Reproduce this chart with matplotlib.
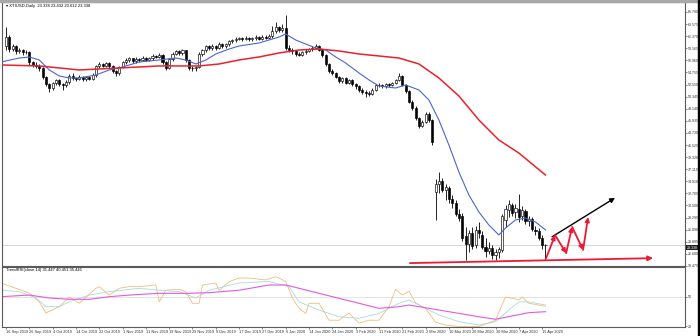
#!/usr/bin/env python3
import numpy as np
import matplotlib.pyplot as plt
import matplotlib.transforms as mtransforms
from matplotlib.patches import Rectangle

# ================================
# DATA (XTIUSD daily)
# ================================

opens = [
    59.5, 61.2, 59.0, 59.5, 58.6, 58.9, 58.4, 58.5, 56.6, 56.2,
    56.0, 55.5, 54.0, 52.6, 51.9, 52.8, 53.3, 52.6, 52.4, 53.0,
    54.2, 53.8, 53.6, 54.0, 53.5, 53.9, 53.6, 54.3, 55.9, 56.3,
    56.0, 56.4, 55.9, 55.0, 54.6, 55.8, 56.6, 57.0, 57.3, 56.8,
    57.2, 57.0, 57.4, 57.1, 57.3, 57.8, 57.6, 58.0, 56.6, 55.6,
    57.2, 58.2, 58.6, 58.3, 58.8, 57.0, 55.6, 55.5, 55.8, 58.2,
    58.8, 59.5, 59.2, 59.6, 59.3, 60.0, 59.6, 59.9, 60.4, 60.6,
    60.9, 61.0, 60.9, 61.1, 60.8, 61.0, 61.2, 60.9, 61.3, 61.1,
    61.4, 62.4, 63.0, 62.5, 62.8, 59.3, 58.9, 58.6, 58.2, 58.0,
    58.4, 58.7, 59.0, 59.3, 59.5, 58.9, 57.9, 56.3, 55.0, 54.6,
    54.0, 53.2, 53.7, 52.9, 53.3, 52.6, 52.2, 51.6, 51.2, 51.0,
    50.8, 51.6, 52.4, 52.5, 52.2, 52.6, 52.4, 52.9, 53.4, 54.1,
    52.5, 51.4, 49.4, 48.3, 46.4, 45.0, 45.8, 47.2, 46.0,
    33.0, 34.4, 35.0, 33.4, 33.6, 31.6, 31.0, 29.0, 28.6, 25.0,
    23.5, 25.5, 23.3, 26.0, 25.2, 23.0, 22.2, 22.7, 21.5, 22.0,
    22.4, 27.8, 29.6, 30.6, 29.3, 29.8, 28.5, 29.5, 27.6, 28.1,
    26.1, 25.8, 24.6, 23.338,
]
highs = [
    63.0, 61.6, 60.0, 59.7, 59.3, 59.1, 58.9, 58.7, 56.9, 56.7,
    56.3, 55.7, 54.2, 52.9, 53.1, 53.6, 53.5, 52.9, 53.3, 54.5,
    54.6, 54.0, 54.3, 54.2, 54.2, 54.1, 54.6, 56.2, 56.6, 56.5,
    56.7, 56.6, 56.1, 55.2, 56.0, 56.9, 57.3, 57.6, 57.4, 57.5,
    57.4, 57.7, 57.6, 57.5, 58.1, 58.0, 58.3, 58.2, 56.9, 57.4,
    58.5, 58.9, 58.8, 59.1, 58.9, 57.2, 55.9, 56.0, 58.4, 59.1,
    59.8, 59.7, 59.9, 59.8, 60.3, 60.1, 60.2, 60.6, 60.9, 61.2,
    61.3, 61.3, 61.4, 61.2, 61.3, 61.5, 61.4, 61.6, 61.5, 61.7,
    63.2, 64.0, 63.3, 63.5, 65.2, 59.8, 59.2, 58.9, 58.5, 58.6,
    59.0, 59.3, 59.6, 59.9, 59.8, 59.1, 58.1, 56.5, 55.3, 54.8,
    54.2, 54.0, 53.9, 53.6, 53.5, 52.8, 52.5, 51.9, 51.5, 51.3,
    51.9, 52.7, 52.8, 52.7, 52.9, 52.8, 53.1, 53.6, 54.7, 54.3,
    52.7, 51.6, 49.7, 48.6, 46.7, 46.1, 47.5, 47.5, 46.3,
    35.3, 36.6, 35.6, 34.5, 34.0, 32.4, 31.5, 29.8, 29.2, 26.5,
    26.0, 26.6, 26.8, 27.5, 25.8, 24.6, 23.8, 23.3, 22.6, 23.0,
    29.0, 30.5, 31.5, 31.0, 30.8, 32.6, 30.4, 29.9, 28.6, 28.4,
    26.8, 26.4, 25.2, 23.432,
]
lows = [
    58.8, 58.5, 58.6, 58.2, 58.3, 58.0, 58.1, 56.2, 55.7, 55.6,
    55.1, 53.6, 52.2, 51.2, 51.6, 52.5, 52.3, 51.6, 52.1, 52.7,
    53.4, 53.2, 53.3, 53.2, 53.2, 53.3, 53.4, 54.0, 55.6, 55.7,
    55.7, 55.6, 54.7, 54.2, 54.3, 55.5, 56.3, 56.7, 56.5, 56.5,
    56.7, 56.8, 56.8, 56.8, 57.0, 57.3, 57.3, 56.3, 55.2, 55.3,
    56.9, 57.9, 57.9, 58.0, 56.7, 55.2, 55.0, 55.1, 55.5, 57.8,
    58.5, 58.8, 58.9, 58.9, 59.0, 59.2, 59.3, 59.6, 60.1, 60.3,
    60.6, 60.5, 60.6, 60.5, 60.5, 60.7, 60.6, 60.7, 60.8, 60.9,
    61.1, 62.0, 62.1, 62.2, 58.8, 58.5, 58.2, 57.8, 57.7, 57.8,
    58.1, 58.4, 58.7, 59.0, 58.6, 57.6, 56.0, 54.7, 54.3, 53.7,
    52.8, 52.9, 52.6, 52.7, 52.3, 51.8, 51.2, 50.8, 50.2, 50.4,
    50.6, 51.4, 52.1, 51.9, 52.0, 52.1, 52.2, 52.7, 53.2, 52.2,
    51.1, 49.1, 48.0, 46.1, 44.6, 44.8, 45.5, 45.7, 41.6,
    27.9, 32.8, 32.9, 31.5, 31.0, 30.0, 28.5, 27.6, 24.0, 20.6,
    22.0, 22.6, 22.8, 24.6, 22.6, 21.2, 21.6, 20.8, 20.6, 21.0,
    22.0, 26.5, 28.4, 28.5, 28.2, 27.5, 27.8, 27.2, 26.8, 25.8,
    25.2, 24.2, 22.5, 20.612,
]
closes = [
    61.2, 59.0, 59.5, 58.6, 58.9, 58.4, 58.5, 56.6, 56.2, 56.0,
    55.5, 54.0, 52.6, 51.9, 52.8, 53.3, 52.6, 52.4, 53.0, 54.2,
    53.8, 53.6, 54.0, 53.5, 53.9, 53.6, 54.3, 55.9, 56.3, 56.0,
    56.4, 55.9, 55.0, 54.6, 55.8, 56.6, 57.0, 57.3, 56.8, 57.2,
    57.0, 57.4, 57.1, 57.3, 57.8, 57.6, 58.0, 56.6, 55.6, 57.2,
    58.2, 58.6, 58.3, 58.8, 57.0, 55.6, 55.5, 55.8, 58.2, 58.8,
    59.5, 59.2, 59.6, 59.3, 60.0, 59.6, 59.9, 60.4, 60.6, 60.9,
    61.0, 60.9, 61.1, 60.8, 61.0, 61.2, 60.9, 61.3, 61.1, 61.4,
    62.4, 63.0, 62.5, 62.8, 59.3, 58.9, 58.6, 58.2, 58.0, 58.4,
    58.7, 59.0, 59.3, 59.5, 58.9, 57.9, 56.3, 55.0, 54.6, 54.0,
    53.2, 53.7, 52.9, 53.3, 52.6, 52.2, 51.6, 51.2, 51.0, 50.8,
    51.6, 52.4, 52.5, 52.2, 52.6, 52.4, 52.9, 53.4, 54.1, 52.5,
    51.4, 49.4, 48.3, 46.4, 45.0, 45.8, 47.2, 46.0, 42.0,
    34.5, 35.0, 33.4, 33.9, 31.6, 31.0, 29.0, 28.2, 24.5, 23.5,
    25.5, 23.2, 26.0, 25.4, 23.0, 22.2, 22.8, 21.4, 22.0, 22.5,
    28.5, 29.8, 30.8, 29.2, 30.0, 28.4, 29.6, 27.6, 28.0, 26.2,
    25.8, 24.6, 23.3, 23.338,
]

# moving averages (bar index, price)
fast_ma_bars = [-1.5, 4, 7, 10, 13, 16, 19, 22, 27, 31, 34, 40, 46, 51, 54, 57, 60, 63, 67, 70,
                76, 82, 84, 87, 90, 93, 96, 99, 102, 106, 109, 112, 117, 120, 124, 127, 130, 133,
                136, 139, 142, 145, 148, 150, 153, 156, 159, 162]
fast_ma = [56.66, 57.39, 57.57, 57.03, 55.21, 54.11, 53.75, 53.75, 54.29, 55.21, 55.57, 56.66,
           57.03, 57.39, 57.03, 56.30, 57.03, 58.12, 59.03, 59.58, 60.13, 61.22, 61.77, 60.67,
           59.94, 59.22, 58.85, 57.58, 56.48, 54.66, 53.39, 52.29, 51.92, 52.47, 51.56, 49.74,
           46.09, 41.53, 36.61, 32.42, 29.32, 26.95, 25.12, 26.40, 27.86, 28.22, 27.49, 26.04]

slow_ma_bars = [-1.5, 10, 22, 34, 46, 58, 64, 70, 76, 82, 88, 94, 100, 106, 112, 118, 124, 130,
                136, 142, 148, 154, 162]
slow_ma = [56.12, 55.94, 55.21, 55.57, 55.94, 55.94, 56.30, 57.03, 57.58, 58.31, 58.85, 59.03,
           58.67, 58.12, 57.76, 57.39, 56.30, 53.75, 50.47, 46.09, 42.44, 40.07, 36.06]

# TrendRSI sub-window (bar index, value)
rsi_bars = [-1.5, 7, 10, 12, 16, 19, 22, 27, 28, 31, 34, 37, 40, 45, 46, 48, 52, 54, 56, 58, 59,
            63, 64, 67, 70, 73, 78, 81, 82, 84, 86, 88, 90, 91, 94, 97, 100, 103, 106, 109, 112,
            115, 117, 119, 121, 123, 126, 129, 132, 136, 142, 147, 150, 152, 154, 155, 157, 162]
rsi = [64.5, 54.0, 45.0, 33.5, 40.0, 50.0, 43.5, 59.0, 60.7, 52.0, 59.0, 60.7, 60.7, 62.4, 45.0,
       57.0, 58.0, 55.5, 43.5, 43.5, 62.4, 64.5, 57.0, 65.9, 69.6, 69.6, 67.6, 71.0, 69.6, 65.9,
       49.0, 38.3, 33.0, 43.5, 43.5, 26.0, 26.0, 33.5, 23.0, 26.0, 26.0, 40.0, 58.0, 52.0, 56.0,
       44.0, 38.0, 24.0, 21.0, 19.5, 19.5, 26.0, 50.0, 48.6, 47.0, 50.0, 43.5, 40.5]

signal_bars = [-1.5, 4, 9, 12, 16, 19, 25, 31, 40, 46, 52, 57, 61, 70, 79, 85, 88, 94, 100, 106,
               112, 118, 121, 124, 130, 136, 142, 147, 151, 154, 157, 162]
signal = [57.0, 55.5, 49.0, 40.0, 40.0, 45.0, 52.0, 55.5, 59.0, 57.0, 55.5, 49.0, 57.0, 64.5,
          66.0, 60.7, 45.0, 36.5, 29.6, 28.0, 33.0, 43.5, 47.0, 41.7, 31.4, 24.5, 21.0, 24.5,
          36.5, 45.0, 45.0, 41.7]

slow_bars = [-1.5, 7, 13, 19, 25, 31, 37, 46, 55, 61, 70, 79, 84, 88, 94, 100, 106, 112, 118,
             121, 127, 133, 142, 147, 157, 162]
slow = [50.3, 52.0, 49.0, 47.6, 47.6, 50.3, 52.0, 53.8, 53.8, 54.5, 57.0, 62.4, 62.4, 59.0,
        53.8, 48.6, 43.5, 38.3, 40.0, 41.7, 38.3, 34.8, 29.6, 27.0, 33.8, 34.8]

# drawn objects (bar index, price)
support_line = [(121.3, 20.0), (194.3, 20.9)]
trend_arrow = [(164.0, 24.8), (182.9, 31.9)]
zigzag = [(162.2, 20.9), (164.9, 25.1), (168.2, 21.8), (170.0, 26.6), (173.3, 22.4), (174.8, 28.4)]

price_ticks = [65.780, 63.575, 61.370, 59.165, 56.960, 54.755, 52.550, 50.345, 48.140, 45.935,
               43.730, 41.525, 39.320, 37.115, 34.910, 32.705, 30.500, 28.295, 26.090, 23.885,
               21.680, 19.475]
date_labels = ["16 Sep 2019", "26 Sep 2019", "4 Oct 2019", "14 Oct 2019", "22 Oct 2019",
               "1 Nov 2019", "11 Nov 2019", "19 Nov 2019", "29 Nov 2019", "9 Dec 2019",
               "17 Dec 2019", "27 Dec 2019", "6 Jan 2020", "14 Jan 2020", "24 Jan 2020",
               "3 Feb 2020", "11 Feb 2020", "21 Feb 2020", "2 Mar 2020", "10 Mar 2020",
               "20 Mar 2020", "30 Mar 2020", "7 Apr 2020", "15 Apr 2020"]
LABEL_STEP = 7
BID = 23.338

# ================================
# PLOT
# ================================

plt.rcParams["font.family"] = ["Liberation Sans", "DejaVu Sans"]
FS = 2.6
FRAME = "#5a5a5a"
TXT = "#303030"

fig = plt.figure(figsize=(7, 3.36), dpi=100)
fig.patch.set_facecolor("white")
ax = fig.add_axes([2 / 700, 1 - 266 / 336, 683 / 700, 264 / 336])
sub = fig.add_axes([2 / 700, 1 - 327 / 336, 683 / 700, 60 / 336], sharex=ax)

# window chrome
fig.patches.append(Rectangle((0, 1 - 2 / 336), 1, 2 / 336, transform=fig.transFigure,
                             color="#a8a8a8", zorder=0))
fig.patches.append(Rectangle((698 / 700, 0), 2 / 700, 1, transform=fig.transFigure,
                             color="black", zorder=0))

x = np.arange(len(closes))
o = np.array(opens)
c = np.array(closes)
up = c >= o

# candles
ax.vlines(x, lows, highs, color="black", lw=0.6, zorder=2)
ax.bar(x[up], (c - o)[up], bottom=o[up], width=0.62, color="white",
       edgecolor="black", lw=0.45, zorder=3)
ax.bar(x[~up], (o - c)[~up], bottom=c[~up], width=0.62, color="black",
       edgecolor="black", lw=0.45, zorder=3)

ax.plot(fast_ma_bars, fast_ma, color="#4a66d0", lw=0.8, zorder=4)
ax.plot(slow_ma_bars, slow_ma, color="#e8222c", lw=1.1, zorder=4)

ax.axhline(BID, color="#cfcfcf", lw=0.6, zorder=1)

# drawings
red = "#ee1834"
ax.annotate("", xy=support_line[1], xytext=support_line[0],
            arrowprops=dict(arrowstyle="-|>", color=red, lw=1.3, mutation_scale=7,
                            shrinkA=0, shrinkB=0), zorder=5)
ax.annotate("", xy=trend_arrow[1], xytext=trend_arrow[0],
            arrowprops=dict(arrowstyle="-|>", color="black", lw=1.0, mutation_scale=7,
                            shrinkA=0, shrinkB=0), zorder=5)
for a, b in zip(zigzag[:-1], zigzag[1:]):
    ax.annotate("", xy=b, xytext=a,
                arrowprops=dict(arrowstyle="-|>", color=red, lw=1.3, mutation_scale=6,
                                shrinkA=0, shrinkB=0), zorder=5)

ax.set_xlim(-1.2, 203.9)
ax.set_ylim(19.47, 67.6)
ax.yaxis.tick_right()
ax.set_yticks(price_ticks)
ax.set_yticklabels([f"{v:.3f}" for v in price_ticks])
ax.tick_params(axis="y", labelsize=FS, length=1.5, width=0.4, pad=0.8, colors=TXT)
ax.tick_params(axis="x", bottom=False, labelbottom=False)

trans = mtransforms.blended_transform_factory(ax.transAxes, ax.transData)
ax.text(1.0025, BID - 0.55, f"{BID:.3f}", transform=trans, fontsize=FS, color="white",
        va="center", ha="left",
        bbox=dict(boxstyle="square,pad=0.12", fc="#202020", ec="none"))

ax.text(0.006, 0.993, "\u25be XTIUSD,Daily  23.338 23.432 20.612 23.338", transform=ax.transAxes,
        fontsize=3.0, va="top", ha="left", color="black")

# sub window
sub.plot(rsi_bars, rsi, color="#f4ba7c", lw=0.6)
sub.plot(signal_bars, signal, color="#a6dcd4", lw=0.6)
sub.plot(slow_bars, slow, color="#e25ae0", lw=0.8)
sub.axhline(50, color="#d8d8d8", lw=0.5, zorder=0)
sub.set_ylim(19, 81)
sub.yaxis.tick_right()
sub.set_yticks([20, 50])
sub.set_yticklabels(["20", "50"])
sub.tick_params(axis="y", labelsize=FS, length=1.5, width=0.4, pad=0.8, colors=TXT)
sub.text(0.006, 0.99, "TrendRSI(close,14) 31.447 40.451 35.445", transform=sub.transAxes,
         fontsize=3.0, va="top", ha="left", color="black")

ticks = list(range(0, len(date_labels) * LABEL_STEP, LABEL_STEP))
sub.set_xticks(ticks)
sub.set_xticklabels(date_labels, ha="left")
sub.tick_params(axis="x", labelsize=2.8, length=1.5, width=0.4, pad=0.8, colors=TXT)

for a in (ax, sub):
    for s in a.spines.values():
        s.set_color(FRAME)
        s.set_linewidth(0.8)
    a.set_facecolor("white")

fig.savefig("out.png", dpi=100)
